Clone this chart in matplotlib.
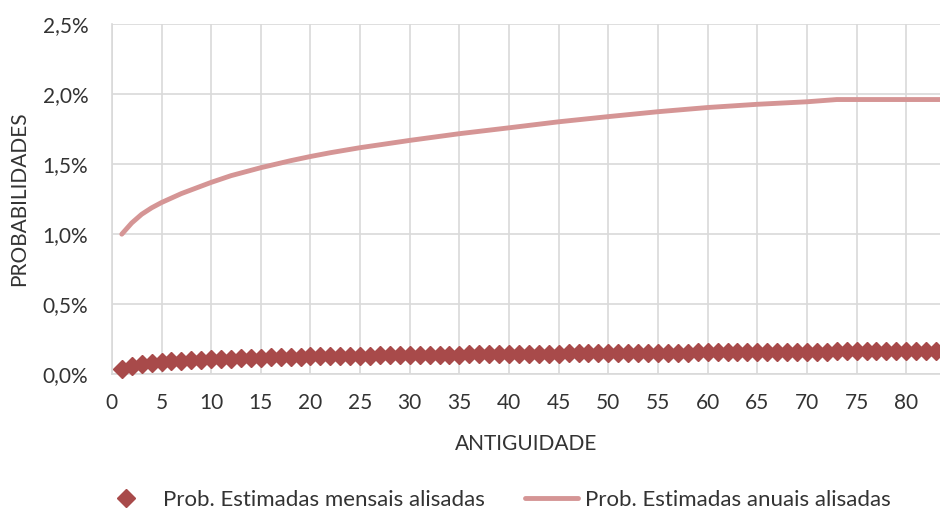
import matplotlib
matplotlib.use("Agg")
import matplotlib.pyplot as plt
from matplotlib.ticker import FuncFormatter, MultipleLocator

#
# Data (probabilities in %)
#

# annual smoothed probabilities, read at a few seniority points
anual_x = [1, 2, 3, 4, 5, 7, 10, 12, 15, 18, 20, 22, 25, 30, 35, 40, 45, 50, 55, 60, 65, 70, 73, 84]
anual_y = [1.00, 1.08, 1.142, 1.188, 1.226, 1.29, 1.37, 1.418, 1.475, 1.525, 1.555, 1.582,
           1.618, 1.67, 1.718, 1.76, 1.803, 1.84, 1.875, 1.905, 1.928, 1.946, 1.962, 1.962]

# monthly smoothed probabilities, one per seniority 1..84
mensal_x = list(range(1, 85))
mensal_y = [
    0.035, 0.060, 0.070, 0.080, 0.087, 0.091, 0.095, 0.099, 0.103, 0.107,
    0.109, 0.111, 0.114, 0.116, 0.118, 0.120, 0.121, 0.123, 0.124, 0.126,
    0.127, 0.128, 0.129, 0.130, 0.131, 0.132, 0.133, 0.134, 0.135, 0.136,
    0.137, 0.138, 0.139, 0.139, 0.140, 0.141, 0.142, 0.142, 0.143, 0.144,
    0.144, 0.145, 0.146, 0.146, 0.147, 0.148, 0.148, 0.149, 0.149, 0.150,
    0.151, 0.151, 0.152, 0.152, 0.153, 0.153, 0.154, 0.154, 0.155, 0.155,
    0.156, 0.156, 0.157, 0.157, 0.158, 0.158, 0.159, 0.159, 0.160, 0.160,
    0.161, 0.161, 0.162, 0.162, 0.163, 0.163, 0.164, 0.164, 0.165, 0.165,
    0.166, 0.166, 0.167, 0.167,
]

x_ticks = list(range(0, 85, 5))

plt.rcParams['font.family'] = ['Lato', 'DejaVu Sans']
txt_col = "#333333"
fs = 15

fig = plt.figure(figsize=(9.4, 5.16), dpi=100)
ax = fig.add_axes([0.119, 0.275, 0.881, 0.678])

grid_col = "#D9D9D9"
ax.grid(True, color=grid_col, linewidth=1.2)
ax.set_axisbelow(True)
for s in ["top", "right"]:
    ax.spines[s].set_visible(False)
for s in ["left", "bottom"]:
    ax.spines[s].set_color(grid_col)
    ax.spines[s].set_linewidth(1.2)

mens, = ax.plot(mensal_x, mensal_y, linestyle="none", marker="D", markersize=9.5,
                color="#A84A4A", clip_on=False, zorder=3)
anu, = ax.plot(anual_x, anual_y, color="#D59595", linewidth=3.5, solid_capstyle="round",
               zorder=2)

ax.set_xlim(0, 83.4)
ax.set_ylim(0, 2.5)
ax.set_xticks(x_ticks)
ax.yaxis.set_major_locator(MultipleLocator(0.5))
ax.yaxis.set_major_formatter(FuncFormatter(lambda v, p: f"{v:.1f}%".replace(".", ",")))
ax.tick_params(length=0, labelsize=fs, colors=txt_col)
ax.tick_params(axis="x", pad=13.5)
ax.tick_params(axis="y", pad=17)

ax.set_xlabel("ANTIGUIDADE", fontsize=fs, color=txt_col, labelpad=15.5)
ax.set_ylabel("PROBABILIDADES", fontsize=fs, color=txt_col, labelpad=10)

# two separate legend entries, like the original
lfs = 16
fig.legend([mens], ["Prob. Estimadas mensais alisadas"], loc="center left",
           bbox_to_anchor=(0.115, 0.031), frameon=False, fontsize=lfs,
           borderpad=0, borderaxespad=0,
           handlelength=1.6, handletextpad=0.88, labelcolor=txt_col)
fig.legend([anu], ["Prob. Estimadas anuais alisadas"], loc="center left",
           bbox_to_anchor=(0.5585, 0.031), frameon=False, fontsize=lfs,
           borderpad=0, borderaxespad=0,
           handlelength=2.4, handletextpad=0.3, labelcolor=txt_col)

fig.savefig("out.png", dpi=100)
